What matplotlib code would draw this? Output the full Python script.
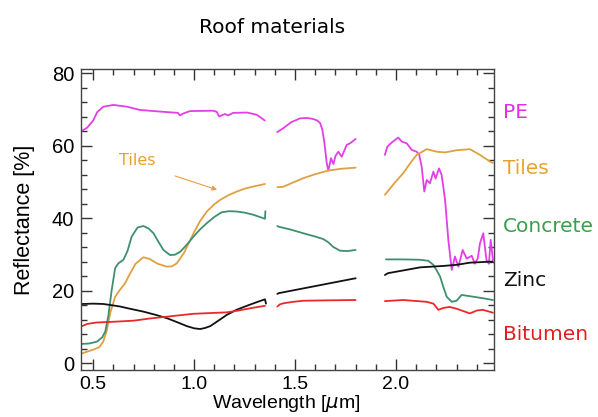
import numpy as np
import matplotlib
matplotlib.use("Agg")
import matplotlib.pyplot as plt
from matplotlib.ticker import MultipleLocator

nan = np.nan

# ---- data (wavelength in micrometres, reflectance in %) ; NaN marks the water-absorption gaps
pe_wl = [0.445, 0.47, 0.5, 0.52, 0.55, 0.60, 0.668, 0.733, 0.847, 0.92, 0.93, 0.945, 0.98, 1.094,
         1.112, 1.124, 1.153, 1.168, 1.193, 1.262, 1.31, 1.35,
         1.38,
         1.412, 1.442, 1.48, 1.525, 1.56, 1.591, 1.61, 1.624, 1.635, 1.645, 1.657, 1.665, 1.678,
         1.69, 1.70, 1.714, 1.731, 1.756, 1.772, 1.80,
         1.87,
         1.945, 1.957, 1.978, 2.011, 2.028, 2.053, 2.078, 2.102, 2.115, 2.127, 2.14, 2.152, 2.168,
         2.185, 2.196, 2.213, 2.226, 2.243, 2.259, 2.276, 2.292, 2.309, 2.33, 2.35, 2.375, 2.39,
         2.405, 2.416, 2.432, 2.448, 2.46, 2.469, 2.48]
pe_r = [64.2, 65.0, 67.0, 69.3, 70.8, 71.3, 70.8, 69.9, 69.4, 69.1, 68.4, 68.9, 69.6, 69.7,
        69.4, 68.1, 68.8, 68.4, 69.1, 69.2, 68.6, 67.0,
        nan,
        63.8, 64.9, 66.5, 67.6, 67.7, 67.4, 67.0, 66.3, 64.5, 61.0, 55.2, 53.2, 56.6,
        55.0, 57.2, 58.4, 57.0, 60.3, 60.7, 61.9,
        nan,
        57.5, 59.8, 60.9, 62.3, 61.2, 60.7, 58.9, 58.4, 57.5, 54.3, 47.4, 50.6, 49.7,
        52.9, 51.0, 53.8, 52.0, 45.1, 34.1, 25.8, 29.5, 26.7, 31.3, 28.9, 29.7, 27.5,
        29.0, 33.2, 35.9, 28.5, 27.5, 34.1, 28.5]

tiles_wl = [0.445, 0.5, 0.53, 0.55, 0.568, 0.585, 0.609, 0.635, 0.658, 0.68, 0.71, 0.749, 0.78,
            0.82, 0.865, 0.89, 0.914, 0.95, 0.997, 1.03, 1.063, 1.1, 1.129, 1.17, 1.211, 1.25,
            1.294, 1.351,
            1.38,
            1.412, 1.44, 1.49, 1.541, 1.60, 1.665, 1.73, 1.80,
            1.87,
            1.945, 1.99, 2.036, 2.07, 2.102, 2.152, 2.201, 2.243, 2.30, 2.366, 2.416, 2.465, 2.48]
tiles_r = [2.8, 3.8, 4.5, 6.0, 9.2, 14.0, 18.4, 20.5, 22.1, 24.5, 27.5, 29.3, 28.8,
           27.5, 26.7, 26.8, 27.6, 30.5, 35.9, 39.3, 41.9, 43.9, 45.1, 46.4, 47.4, 48.2,
           48.8, 49.5,
           nan,
           48.6, 48.7, 49.9, 51.1, 52.2, 53.2, 53.7, 54.0,
           nan,
           46.5, 49.6, 52.5, 55.2, 57.5, 59.1, 58.4, 58.2, 58.8, 59.1, 57.5, 55.7, 55.3]

concrete_wl = [0.445, 0.48, 0.518, 0.545, 0.56, 0.575, 0.592, 0.609, 0.625, 0.65, 0.67, 0.691,
               0.72, 0.749, 0.775, 0.799, 0.825, 0.848, 0.881, 0.905, 0.931, 0.96, 0.997, 1.03,
               1.063, 1.1, 1.137, 1.175, 1.211, 1.25, 1.294, 1.351, 1.353,
               1.38,
               1.412, 1.42, 1.48, 1.541, 1.60, 1.64, 1.665, 1.69, 1.723, 1.76, 1.80,
               1.87,
               1.95, 2.036, 2.119, 2.16, 2.185, 2.2, 2.218, 2.235, 2.251, 2.276, 2.30, 2.325,
               2.383, 2.43, 2.48]
concrete_r = [5.4, 5.5, 6.0, 7.2, 8.8, 13.0, 20.3, 26.3, 27.6, 28.6, 31.0, 35.0,
              37.5, 37.9, 37.2, 35.9, 33.4, 31.3, 29.9, 30.0, 30.8, 32.5, 35.0, 37.0,
              38.7, 40.4, 41.7, 42.0, 41.9, 41.6, 41.0, 39.9, 42.0,
              nan,
              37.9, 37.7, 36.9, 35.9, 35.0, 34.3, 33.4, 32.1, 31.1, 31.0, 31.3,
              nan,
              28.7, 28.7, 28.6, 28.3, 27.2, 25.8, 24.0, 21.0, 18.4, 17.0, 17.3, 18.9,
              18.4, 18.0, 17.5]

zinc_wl = [0.445, 0.5, 0.551, 0.6, 0.634, 0.69, 0.749, 0.81, 0.865, 0.92, 0.964, 1.0, 1.03,
           1.055, 1.08, 1.12, 1.162, 1.21, 1.261, 1.31, 1.351, 1.356,
           1.38,
           1.412, 1.42, 1.80,
           1.87,
           1.945, 1.96, 2.04, 2.119, 2.234, 2.30, 2.366, 2.478]
zinc_r = [16.4, 16.5, 16.4, 16.0, 15.7, 15.0, 14.3, 13.4, 12.5, 11.3, 10.3, 9.7, 9.5,
          9.8, 10.3, 11.8, 13.4, 14.8, 15.9, 16.9, 17.7, 16.5,
          nan,
          19.2, 19.4, 23.5,
          nan,
          24.4, 24.9, 25.7, 26.5, 26.9, 27.2, 27.8, 28.1]

bitumen_wl = [0.445, 0.47, 0.518, 0.6, 0.70, 0.78, 0.865, 0.93, 0.997, 1.08, 1.162, 1.22, 1.275,
              1.351,
              1.38,
              1.412, 1.425, 1.442, 1.49, 1.541, 1.65, 1.80,
              1.87,
              1.945, 2.036, 2.152, 2.185, 2.21, 2.234, 2.265, 2.30, 2.366, 2.40, 2.43, 2.48]
bitumen_r = [10.3, 10.9, 11.3, 11.5, 11.8, 12.4, 12.9, 13.3, 13.7, 13.9, 14.1, 14.6, 15.2,
             15.9,
             nan,
             15.7, 16.3, 16.6, 17.0, 17.3, 17.4, 17.5,
             nan,
             17.2, 17.5, 17.0, 16.5, 14.8, 15.3, 15.6, 15.1, 13.8, 14.6, 14.8, 14.0]

series_names = ["PE", "Tiles", "Concrete", "Zinc", "Bitumen"]
line_colors = ["#e23fe6", "#e0a040", "#3f8f6c", "#111111", "#e82a2a"]
label_colors = ["#e030e0", "#e8a030", "#3d9d4d", "#111111", "#e02020"]
label_y = [69.1, 53.9, 37.9, 22.8, 7.9]

x_ticks = [0.5, 1.0, 1.5, 2.0]
x_ticklabels = ["0.5", "1.0", "1.5", "2.0"]
y_ticks = [0, 20, 40, 60, 80]

# ---- figure
fig = plt.figure(figsize=(5.98, 4.17), dpi=100)
ax = fig.add_axes([0.1355, 0.1127, 0.6905, 0.7218])

data = [(pe_wl, pe_r), (tiles_wl, tiles_r), (concrete_wl, concrete_r),
        (zinc_wl, zinc_r), (bitumen_wl, bitumen_r)]
for (wl, r), c in zip(data, line_colors):
    ax.plot(wl, r, color=c, lw=1.3, solid_joinstyle="round", solid_capstyle="round")

ax.set_xlim(0.44, 2.485)
ax.set_ylim(-1.8, 81.2)
ax.set_xticks(x_ticks)
ax.set_xticklabels(x_ticklabels)
ax.set_yticks(y_ticks)
ax.xaxis.set_minor_locator(MultipleLocator(0.1))
ax.yaxis.set_minor_locator(MultipleLocator(4))
ax.tick_params(which="both", direction="in", top=True, right=True, colors="#333333",
               labelcolor="black", labelsize=14.5)
ax.tick_params(axis="x", labelsize=14)
ax.tick_params(which="major", length=8, width=1)
ax.tick_params(which="minor", length=4, width=1)
for s in ax.spines.values():
    s.set_color("#444444")
    s.set_linewidth(1.0)

tick_font = "Liberation Sans"
for lab in ax.get_xticklabels() + ax.get_yticklabels():
    lab.set_fontfamily(tick_font)
ax.tick_params(axis="x", pad=4)
ax.tick_params(axis="y", pad=5)
ax.set_ylabel("Reflectance [%]", fontsize=15.5, fontfamily=tick_font, labelpad=12)
fig.text(0.478, 1 - 404 / 417, r"Wavelength [$\mu$m]", ha="center", va="center",
         fontsize=14, fontfamily=tick_font)

fig.text(0.455, 0.933, "Roof materials", ha="center", va="center", fontsize=14.5,
         fontfamily="DejaVu Sans")

# right-side labels
for name, col, yv in zip(series_names, label_colors, label_y):
    ax.text(1.022, yv, name, transform=ax.get_yaxis_transform(), color=col,
            fontsize=14.5, fontfamily="DejaVu Sans", va="center", ha="left")

# annotation
ax.annotate("", xy=(1.114, 47.9), xytext=(0.906, 51.7),
            arrowprops=dict(arrowstyle="-|>", color="#e8a040", lw=0.8,
                            mutation_scale=7, shrinkA=0, shrinkB=0))
ax.text(0.718, 56.1, "Tiles", color="#e8a030", fontsize=11.5, fontfamily="DejaVu Sans",
        va="center", ha="center")

fig.savefig("out.png", dpi=100)
